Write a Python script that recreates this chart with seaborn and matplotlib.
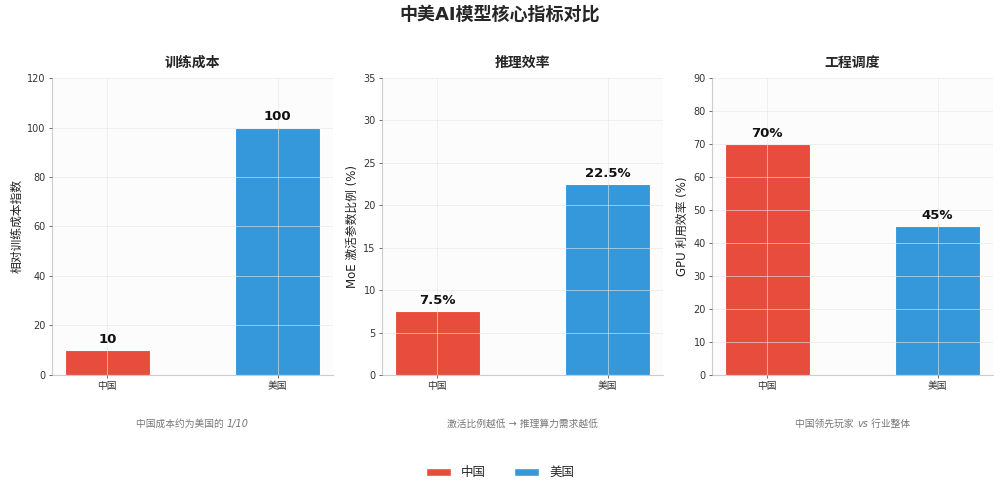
import matplotlib
matplotlib.use("Agg")
import matplotlib.pyplot as plt
import matplotlib.transforms as mtransforms
import seaborn as sns
from matplotlib.patches import Patch

# data
countries = ["中国", "美国"]
cost_values = [10, 100]
moe_values = [7.5, 22.5]
gpu_values = [70, 45]
colors = ["#e74c3c", "#3498db"]

panel_titles = ["训练成本", "推理效率", "工程调度"]
panel_ylabels = ["相对训练成本指数", "MoE 激活参数比例 (%)", "GPU 利用效率 (%)"]
panel_ylims = [120, 35, 90]
panel_ysteps = [20, 5, 10]
# notes as (text, fontstyle) pieces so the italic bits stay italic
panel_notes = [
    [("中国成本约为美国的 ", "normal"), ("1/10", "italic")],
    [("激活比例越低 → 推理算力需求越低", "normal")],
    [("中国领先玩家 ", "normal"), ("vs", "italic"), (" 行业整体", "normal")],
]
panel_fmt = ["{:g}", "{:g}%", "{:g}%"]

sns.set_theme(style="whitegrid")
# latin glyphs from DejaVu, chinese falls back to Noto CJK
plt.rcParams["font.family"] = ["DejaVu Sans", "Noto Sans CJK SC"]
plt.rcParams["axes.unicode_minus"] = False

fig = plt.figure(figsize=(10, 4.94), dpi=100)
renderer = fig.canvas.get_renderer()


def mixed_text(ax, x, y, parts, **kw):
    """Draw a row of text pieces (different styles) centred at (x, y) in axes coords."""
    items = []
    for s, style in parts:
        t = ax.text(x, y, s, transform=ax.transAxes, fontstyle=style,
                    ha="left", va="center", **kw)
        items.append((t, t.get_window_extent(renderer).width))
    total = sum(w for _, w in items)
    dx = -total / 2
    for t, w in items:
        t.set_transform(mtransforms.offset_copy(ax.transAxes, fig=fig, x=dx, y=0, units="dots"))
        dx += w


lefts = [0.052, 0.382, 0.712]
all_values = [cost_values, moe_values, gpu_values]

for i, vals in enumerate(all_values):
    ax = fig.add_axes([lefts[i], 0.241, 0.281, 0.601])
    sns.barplot(x=countries, y=vals, hue=countries, palette=colors, width=0.5,
                ax=ax, legend=False, edgecolor="white", linewidth=0.8, saturation=1)
    ax.set_xlim(-0.325, 1.325)
    ax.set_ylim(0, panel_ylims[i])
    ax.set_yticks(range(0, panel_ylims[i] + 1, panel_ysteps[i]))
    ax.set_facecolor("#fcfcfc")
    ax.set_axisbelow(False)
    ax.grid(True, color="#e6e6e6", alpha=0.6, linewidth=0.7)
    for side in ["top", "right"]:
        ax.spines[side].set_visible(False)
    for side in ["left", "bottom"]:
        ax.spines[side].set_color("#cccccc")
        ax.spines[side].set_linewidth(0.8)
    ax.tick_params(axis="y", labelsize=7, colors="#333333", length=2.5, width=0.6,
                   left=True, color="#555555", pad=2)
    ax.tick_params(axis="x", labelsize=7, colors="#333333", length=2.5, width=0.6,
                   bottom=True, color="#555555", pad=2)
    ax.set_title(panel_titles[i], fontsize=10, fontweight="bold", pad=8)
    ax.set_ylabel(panel_ylabels[i], fontsize=8.5, color="#222222", labelpad=3)
    ax.set_xlabel("")
    for j, v in enumerate(vals):
        ax.annotate(panel_fmt[i].format(v), xy=(j, v), xytext=(0, 3),
                    textcoords="offset points", ha="center", va="bottom",
                    fontsize=9.5, fontweight="bold", color="#111111")
    mixed_text(ax, 0.5, -0.165, panel_notes[i], fontsize=7, color="#777777")

fig.suptitle("中美AI模型核心指标对比", fontsize=13, fontweight="bold", y=0.988)

handles = [Patch(facecolor=c, edgecolor="white", label=n) for c, n in zip(colors, countries)]
fig.legend(handles=handles, loc="center", bbox_to_anchor=(0.5, 0.043), ncol=2,
           frameon=False, fontsize=9, handlelength=2.0, handleheight=0.7,
           columnspacing=2.3)

fig.savefig("out.png", dpi=100)
